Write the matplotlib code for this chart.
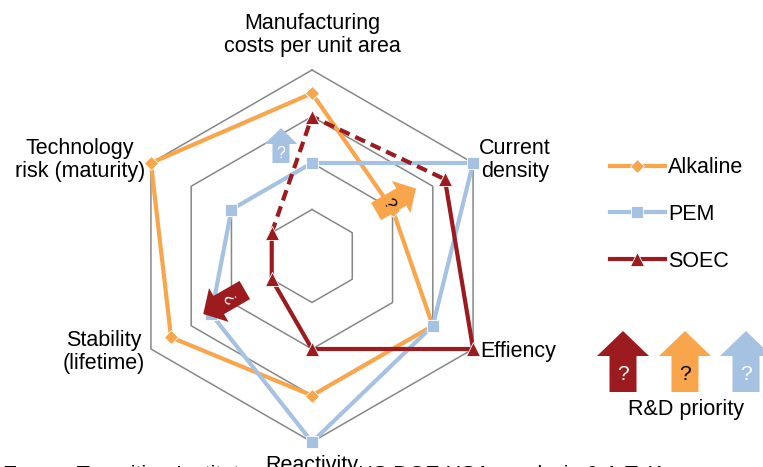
import numpy as np
import matplotlib
matplotlib.use('Agg')
import matplotlib.pyplot as plt
from matplotlib.patches import Polygon

# Data (score 0-4 on each axis, clockwise from the top)
AXIS_LABELS = ["Manufacturing\ncosts per unit area", "Current\ndensity", "Effiency",
               "Reactivity", "Stability\n(lifetime)", "Technology\nrisk (maturity)"]
SERIES_NAMES = ["Alkaline", "PEM", "SOEC"]
alkaline = [3.5, 2, 3, 3, 3.5, 4]
pem = [2, 4, 3, 4, 2.5, 2]
soec = [3, 3.3, 4, 2, 1, 1]
grid_levels = [1, 2, 3, 4]
source_text = "Energy Transition Institute; based on NS DOE USA; analysis & A.T. Kearney"

# Style constants
ORANGE = "#F9A54B"
BLUE = "#A5C2E2"
RED = "#9B1B1F"
GRID_COLOR = "#878787"
FONT_SIZE = 15.5
W, H = 763, 467

plt.rcParams['font.family'] = ['Liberation Sans', 'DejaVu Sans']

fig = plt.figure(figsize=(W / 100, H / 100), dpi=100)

# polar axes: centre at (312, 256) px, radius 186 px
cx, cy, rad = 312, 256, 186
ax = fig.add_axes([(cx - rad) / W, (H - cy - rad) / H, 2 * rad / W, 2 * rad / H],
                  projection='polar')
ax.set_theta_offset(np.pi / 2)
ax.set_theta_direction(-1)
ax.set_ylim(0, 4)
ax.grid(False)
ax.set_xticks([])
ax.set_yticks([])
ax.spines['polar'].set_visible(False)
ax.patch.set_visible(False)

theta = np.deg2rad(np.arange(0, 361, 60))

for lvl in grid_levels:
    ax.plot(theta, [lvl] * 7, color=GRID_COLOR, lw=1.1, clip_on=False, zorder=1)


def closed(vals):
    return list(vals) + [vals[0]]


ax.plot(theta, closed(alkaline), color=ORANGE, lw=3, marker='D', ms=7,
        mec='white', mew=0.6, clip_on=False, zorder=3)
ax.plot(theta, closed(pem), color=BLUE, lw=3, marker='s', ms=9,
        mec='white', mew=0.6, clip_on=False, zorder=4)

# SOEC: dashed between technology risk -> manufacturing -> current density
dash_idx = [5, 0, 1]
solid_idx = [1, 2, 3, 4, 5]
ax.plot(theta[[5, 6, 1]], [soec[i] for i in dash_idx], color=RED, lw=3,
        ls=(0, (2.6, 1.5)), clip_on=False, zorder=5)
ax.plot(theta[solid_idx], [soec[i] for i in solid_idx], color=RED, lw=3,
        clip_on=False, zorder=5)
ax.plot(theta[:6], soec, ls='none', color=RED, marker='^', ms=10,
        mec='white', mew=0.6, clip_on=False, zorder=6)

# legend
handles = [plt.Line2D([], [], color=c, lw=3, marker=m, ms=s, mec='white', mew=0.6)
           for c, m, s in [(ORANGE, 'D', 7), (BLUE, 's', 9), (RED, '^', 10)]]
fig.legend(handles, SERIES_NAMES, loc='center left', bbox_to_anchor=(610 / W, 1 - 214.5 / H),
           frameon=False, fontsize=FONT_SIZE, numpoints=1, handlelength=2.55,
           handletextpad=0.15, labelspacing=1.2, borderpad=0, borderaxespad=0)

# overlay in pixel coordinates for labels and block arrows
ov = fig.add_axes([0, 0, 1, 1], zorder=10)
ov.set_xlim(0, W)
ov.set_ylim(H, 0)
ov.axis('off')
ov.patch.set_visible(False)


def block_arrow(x, y, angle, length, shaft_w, head_w, head_l, color, qcolor, qsize, qoff=0):
    pts = np.array([(-length / 2, -shaft_w / 2), (length / 2 - head_l, -shaft_w / 2),
                    (length / 2 - head_l, -head_w / 2), (length / 2, 0),
                    (length / 2 - head_l, head_w / 2), (length / 2 - head_l, shaft_w / 2),
                    (-length / 2, shaft_w / 2)])
    a = np.deg2rad(angle)
    px = x + pts[:, 0] * np.cos(a) - pts[:, 1] * np.sin(a)
    py = y - (pts[:, 0] * np.sin(a) + pts[:, 1] * np.cos(a))
    ov.add_patch(Polygon(np.column_stack([px, py]), closed=True, fc=color, ec='none'))
    d = -head_l / 2 + qoff
    ov.text(x + d * np.cos(a), y - d * np.sin(a), "?", color=qcolor, fontsize=qsize,
            rotation=angle - 90, ha='center', va='center', rotation_mode='anchor')


# arrows on the chart
block_arrow(281, 145.5, 90, 35, 17, 33, 16, BLUE, 'white', 11.5)
block_arrow(396, 200, 30, 46, 20, 37, 17, ORANGE, 'black', 12)
block_arrow(224, 302, 210, 48, 21, 39, 18, RED, 'white', 12)

# R&D priority arrows
for x, c, qc in [(623, RED, 'white'), (685, ORANGE, 'black'), (746, BLUE, 'white')]:
    block_arrow(x, 361.5, 90, 61, 27, 52, 25, c, qc, 15)
ov.text(686, 410, "R&D priority", fontsize=FONT_SIZE, ha='center', va='center')

# axis labels
ov.text(312, 35, AXIS_LABELS[0], fontsize=FONT_SIZE, ha='center', va='center', linespacing=1.1)
ov.text(515, 160, AXIS_LABELS[1], fontsize=FONT_SIZE, ha='center', va='center', linespacing=1.1)
ov.text(480, 352, AXIS_LABELS[2], fontsize=FONT_SIZE, ha='left', va='center')
ov.text(104, 352, AXIS_LABELS[4], fontsize=FONT_SIZE, ha='center', va='center', linespacing=1.1)
ov.text(80, 160, AXIS_LABELS[5], fontsize=FONT_SIZE, ha='center', va='center', linespacing=1.1)

# source line (mostly cropped by the figure edge, as in the original)
ov.text(3, 480.5, source_text, fontsize=FONT_SIZE, ha='left', va='baseline')
ov.text(312, 471, AXIS_LABELS[3], fontsize=FONT_SIZE, ha='center', va='baseline',
        bbox=dict(fc='white', ec='none', pad=1), zorder=12)

fig.savefig("out.png", dpi=100)
